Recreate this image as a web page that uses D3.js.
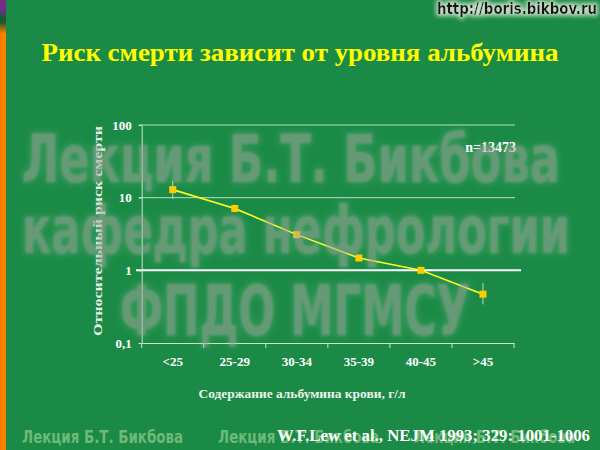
<!DOCTYPE html>
<html><head><meta charset="utf-8">
<script src="https://cdn.jsdelivr.net/npm/d3@7"></script>
<style>html,body{margin:0;padding:0;background:#1b8a46;}svg{display:block;}</style>
</head><body>
<script>
const categories = ["<25","25-29","30-34","35-39","40-45",">45"];
const riskValues = [12.9, 7.1, 3.1, 1.48, 1.0, 0.47];
const errLow = [9.6, 6.4, null, null, null, 0.34];
const errHigh = [17.1, 8.0, null, null, null, 0.67];
const yTicks = [0.1, 1, 10, 100];
const yTickLabels = ["0,1", "1", "10", "100"];
const title = "Риск смерти зависит от уровня альбумина";
const yTitle = "Относительный риск смерти";
const xTitle = "Содержание альбумина  крови, г/л";
const note = "n=13473";
const citation = "W.F.Lew et al., NEJM 1993; 329: 1001-1006";
const watermarkLines = ["Лекция Б.Т. Бикбова", "кафедра нефрологии", "ФПДО МГМСУ"];
const footerMark = "Лекция Б.Т. Бикбова";
const url = "http://boris.bikbov.ru";

const W = 600, H = 450;
const svg = d3.select("body").append("svg").attr("width", W).attr("height", H);
const defs = svg.append("defs");

const lg = defs.append("linearGradient").attr("id","stripe").attr("x1",0).attr("y1",0).attr("x2",0).attr("y2",1);
[[0,"#7a2a8a"],[0.025,"#6a3080"],[0.04,"#0f5a30"],[0.05,"#1e5a25"],[0.075,"#ff8000"],[1,"#ff8000"]].forEach(([o,c])=>lg.append("stop").attr("offset",o).attr("stop-color",c));

const wf = defs.append("filter").attr("id","wm").attr("filterUnits","userSpaceOnUse").attr("x",0).attr("y",100).attr("width",600).attr("height",260);
wf.append("feMorphology").attr("in","SourceAlpha").attr("operator","dilate").attr("radius",2).attr("result","dil");
wf.append("feGaussianBlur").attr("in","dil").attr("stdDeviation",3).attr("result","glowA");
wf.append("feFlood").attr("flood-color","#c8e0c8").attr("flood-opacity",0.28).attr("result","gc");
wf.append("feComposite").attr("in","gc").attr("in2","glowA").attr("operator","in").attr("result","glow");
wf.append("feGaussianBlur").attr("in","SourceGraphic").attr("stdDeviation",1.3).attr("result","txt");
const wm = wf.append("feMerge");
wm.append("feMergeNode").attr("in","glow");
wm.append("feMergeNode").attr("in","txt");

const uf = defs.append("filter").attr("id","urlglow").attr("filterUnits","userSpaceOnUse").attr("x",420).attr("y",0).attr("width",180).attr("height",24);
uf.append("feMorphology").attr("in","SourceAlpha").attr("operator","dilate").attr("radius",1.5).attr("result","d");
uf.append("feGaussianBlur").attr("in","d").attr("stdDeviation",2).attr("result","b");
uf.append("feFlood").attr("flood-color","#e8f0e0").attr("flood-opacity",0.8).attr("result","c");
uf.append("feComposite").attr("in","c").attr("in2","b").attr("operator","in").attr("result","g");
const um = uf.append("feMerge"); um.append("feMergeNode").attr("in","g"); um.append("feMergeNode").attr("in","SourceGraphic");

svg.append("rect").attr("width",W).attr("height",H).attr("fill","#1b8a46");
svg.append("rect").attr("x",0).attr("y",0).attr("width",6).attr("height",H).attr("fill","url(#stripe)");

svg.append("text").attr("x",597).attr("y",14).attr("text-anchor","end")
  .attr("font-family","'DejaVu Sans Condensed','DejaVu Sans',sans-serif").attr("font-weight","bold").attr("font-size",15)
  .attr("textLength",160).attr("lengthAdjust","spacingAndGlyphs")
  .attr("fill","#141414").attr("filter","url(#urlglow)").text(url);

svg.append("text").attr("x",300).attr("y",61).attr("text-anchor","middle")
  .attr("font-family","'Liberation Serif','Times New Roman',serif").attr("font-weight","bold").attr("font-size",26)
  .attr("textLength",517).attr("lengthAdjust","spacingAndGlyphs")
  .attr("fill","#ffff00").text(title);

const x = d3.scaleBand().domain(categories).range([141.7, 514]);
const y = d3.scaleLog().domain([0.1, 100]).range([343, 125]);

const serif = "'Liberation Serif','Times New Roman',serif";
const g = svg.append("g");

g.selectAll(".grid").data(yTicks.filter(v=>v!==0.1 && v!==1)).enter().append("line")
  .attr("x1",139).attr("x2",515).attr("y1",d=>y(d)).attr("y2",d=>y(d))
  .attr("stroke","#b8dcc0").attr("stroke-width",1);
g.append("line").attr("x1",136).attr("x2",521).attr("y1",y(1)).attr("y2",y(1))
  .attr("stroke","#ffffff").attr("stroke-width",2);

const yAxis = d3.axisLeft(y).tickValues(yTicks).tickSize(3).tickFormat(d=>yTickLabels[yTicks.indexOf(d)]);
const ya = g.append("g").attr("transform","translate(141.7,0)").call(yAxis);
ya.select(".domain").attr("stroke","#c8e4cc");
ya.selectAll(".tick line").attr("stroke","#c8e4cc");
ya.selectAll(".tick text").attr("fill","#ffffff").attr("font-family",serif).attr("font-weight","bold").attr("font-size",13).attr("x",-10);

const xAxis = d3.axisBottom(x).tickSize(0).tickPadding(14);
const xa = g.append("g").attr("transform","translate(0,343)").call(xAxis);
xa.select(".domain").attr("stroke","#c8e4cc");
xa.selectAll(".tick text").attr("fill","#ffffff").attr("font-family",serif).attr("font-weight","bold").attr("font-size",13);
const bounds = categories.map(c=>x(c)).concat([x.range()[1]]);
g.selectAll(".xtick").data(bounds).enter().append("line")
  .attr("x1",d=>d).attr("x2",d=>d).attr("y1",343).attr("y2",348).attr("stroke","#c8e4cc");

svg.append("text").attr("transform","translate(102,231) rotate(-90)").attr("text-anchor","middle")
  .attr("font-family",serif).attr("font-weight","bold").attr("font-size",13)
  .attr("textLength",210).attr("lengthAdjust","spacingAndGlyphs").attr("fill","#e8f0e8").text(yTitle);
svg.append("text").attr("x",302).attr("y",398).attr("text-anchor","middle")
  .attr("font-family",serif).attr("font-weight","bold").attr("font-size",12)
  .attr("textLength",207).attr("lengthAdjust","spacingAndGlyphs").attr("fill","#eef4ee").text(xTitle);
svg.append("text").attr("x",516).attr("y",152).attr("text-anchor","end")
  .attr("font-family",serif).attr("font-weight","bold").attr("font-size",14).attr("fill","#ffffff").text(note);

const cx = i => x(categories[i]) + x.bandwidth()/2;
const eb = categories.map((c,i)=>({i, lo:errLow[i], hi:errHigh[i]})).filter(d=>d.lo!=null);
g.selectAll(".err").data(eb).enter().append("line")
  .attr("x1",d=>cx(d.i)).attr("x2",d=>cx(d.i)).attr("y1",d=>y(d.lo)).attr("y2",d=>y(d.hi))
  .attr("stroke","#b8dcc0").attr("stroke-width",1);

const line = d3.line().x((d,i)=>cx(i)).y(d=>y(d));
g.append("path").datum(riskValues).attr("d",line).attr("fill","none").attr("stroke","#ffff20").attr("stroke-width",1.6);
g.selectAll(".pt").data(riskValues).enter().append("rect")
  .attr("x",(d,i)=>cx(i)-3.5).attr("y",d=>y(d)-3.5).attr("width",7).attr("height",7).attr("fill","#ffcc00");

const wmg = svg.append("g").attr("filter","url(#wm)").attr("opacity",0.55);
const wmFont = "'DejaVu Sans Condensed','DejaVu Sans',sans-serif";
const wmSpecs = [[22,182,538],[22,253,548],[120,335,350]];
wmg.selectAll("text").data(watermarkLines).enter().append("text")
  .attr("x",(d,i)=>wmSpecs[i][0]).attr("y",(d,i)=>wmSpecs[i][1])
  .attr("textLength",(d,i)=>wmSpecs[i][2]).attr("lengthAdjust","spacingAndGlyphs")
  .attr("font-family",wmFont).attr("font-weight","bold").attr("font-size",(d,i)=>i===2?70:66)
  .attr("fill","#a4a8a0").text(d=>d);

[22,218,414].forEach(px=>{
  svg.append("text").attr("x",px).attr("y",443).attr("font-family",wmFont).attr("font-weight","bold").attr("font-size",17.5)
    .attr("textLength",161).attr("lengthAdjust","spacingAndGlyphs").attr("fill","#6dba78").text(footerMark);
});
svg.append("text").attr("x",590).attr("y",441).attr("text-anchor","end")
  .attr("font-family",serif).attr("font-weight","bold").attr("font-size",17)
  .attr("textLength",313).attr("lengthAdjust","spacingAndGlyphs")
  .attr("fill","#ffffff").text(citation);
</script>
</body></html>
